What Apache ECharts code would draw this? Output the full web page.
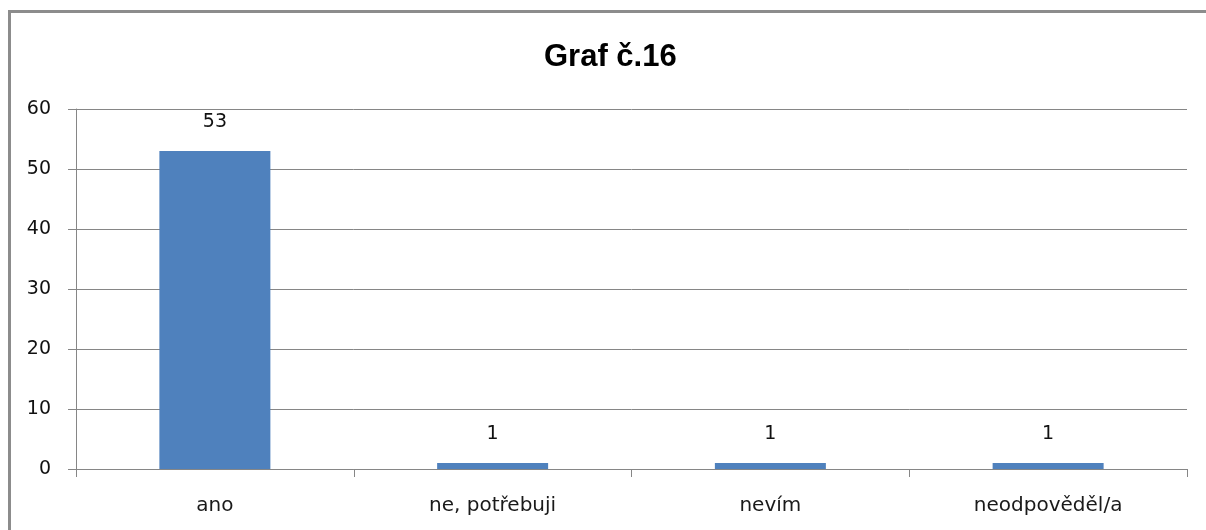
<!DOCTYPE html>
<html>
<head>
<meta charset="utf-8">
<script src="https://cdn.jsdelivr.net/npm/echarts@6/dist/echarts.min.js"></script>
<style>
  html, body { margin: 0; padding: 0; background: #fff; }
  #frame {
    position: absolute; left: 8px; top: 10px; width: 1198px; height: 520px;
    border-left: 3px solid #8c8c8c; border-top: 3px solid #8c8c8c;
    box-sizing: border-box;
  }
  #chart { position: absolute; left: 0; top: 0; width: 1206px; height: 530px; }
</style>
</head>
<body>
<div id="frame"></div>
<div id="chart"></div>
<script>
const titleText = "Graf č.16";
const categories = ["ano", "ne, potřebuji", "nevím", "neodpověděl/a"];
const values = [53, 1, 1, 1];
const yTicks = { min: 0, max: 60, interval: 10 };

const chart = echarts.init(document.getElementById("chart"));

const options = {
  animation: false,
  title: {
    text: titleText,
    left: 539,
    top: 37,
    textStyle: {
      fontFamily: "Liberation Sans",
      fontSize: 31,
      fontWeight: "bold",
      color: "#000",
    },
  },
  grid: { left: 76, right: 19, top: 109, bottom: 61 },
  xAxis: {
    type: "category",
    data: categories,
    axisLine: { lineStyle: { color: "#868686", width: 1 } },
    axisTick: { show: true, length: 8, lineStyle: { color: "#868686" } },
    axisLabel: {
      margin: 27,
      fontFamily: "DejaVu Sans",
      fontSize: 20,
      color: "#1a1a1a",
    },
  },
  yAxis: {
    type: "value",
    min: yTicks.min,
    max: yTicks.max,
    interval: yTicks.interval,
    axisLine: { show: true, lineStyle: { color: "#868686", width: 1 } },
    axisTick: { show: true, length: 8, lineStyle: { color: "#868686" } },
    splitLine: { show: true, lineStyle: { color: "#868686", width: 1 } },
    axisLabel: {
      margin: 25,
      padding: [6, 0, 0, 0],
      fontFamily: "DejaVu Sans",
      fontSize: 19,
      color: "#111",
    },
  },
  series: [
    {
      type: "bar",
      data: values,
      barWidth: 111,
      itemStyle: { color: "#4F81BD" },
      label: {
        show: true,
        position: "top",
        distance: 19,
        fontFamily: "DejaVu Sans",
        fontSize: 19,
        color: "#111",
      },
    },
  ],
};

chart.setOption(options);
</script>
</body>
</html>
